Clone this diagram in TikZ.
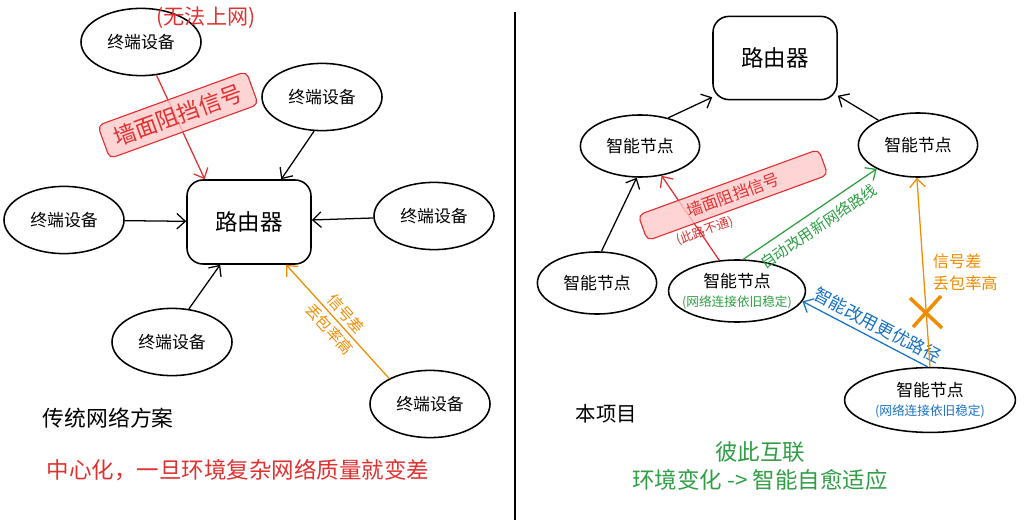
\documentclass[tikz,border=0pt]{standalone}
\usepackage{fontspec}
\setmainfont{Noto Sans CJK SC}
\usetikzlibrary{shapes.geometric,arrows.meta}
\definecolor{exred}{HTML}{E03131}
\definecolor{exorange}{HTML}{F08C00}
\definecolor{exgreen}{HTML}{2F9E44}
\definecolor{exblue}{HTML}{1971C2}
\definecolor{expink}{HTML}{FFC9C9}
\begin{document}
\begin{tikzpicture}[x=0.025cm, y=-0.025cm,
    device/.style={draw, ellipse, line width=1.1pt, inner sep=0pt,
      minimum width=3cm, minimum height=1.68cm, font=\fontsize{12}{14}\selectfont},
    smart/.style={draw, ellipse, line width=1.1pt, inner sep=0pt, align=center,
      minimum width=2.98cm, minimum height=1.55cm, font=\fontsize{12}{15}\selectfont},
    router/.style={draw, rounded corners=0.4cm, line width=1.1pt,
      minimum width=3.1cm, minimum height=2.1cm, font=\fontsize{16}{18}\selectfont},
    link/.style={line width=0.9pt, -{Straight Barb[length=6pt,width=11pt]}},
    wall/.style={draw=exred, fill=expink, fill opacity=0.8, text opacity=1,
      rounded corners=4pt, line width=0.8pt, rotate=20, text=exred},
    small/.style={font=\fontsize{8}{9}\selectfont}
  ]
  \useasboundingbox (0,0) rectangle (1024,525);

  % Left side: traditional network
  \node[router] (routerL) at (249,222) {路由器};
  \node[device] (devA) at (141,42) {终端设备};
  \node[device] (devB) at (322,97) {终端设备};
  \node[device] (devC) at (64,220) {终端设备};
  \node[device] (devD) at (434,216) {终端设备};
  \node[device] (devE) at (172,342) {终端设备};
  \node[device] (devF) at (430,404) {终端设备};
  \node[exred, font=\fontsize{15}{17}\selectfont] (offline) at (206,18) {(无法上网)};

  % Drawing links to the router
  \draw[link, exred] (devA.295) -- (routerL.136);
  \draw[link] (devB.257) -- (routerL.53);
  \draw[link] (devC) -- (routerL);
  \draw[link] (devD) -- (routerL);
  \draw[link] (devE.63) -- (routerL.236);
  \draw[link, exorange] (devF.148) -- node[sloped, align=center, text=exorange,
    font=\fontsize{11}{16}\selectfont] (weakL) {信号差\\丢包率高} (routerL.311);
  \node[wall, minimum width=3.95cm, minimum height=0.88cm,
    font=\fontsize{16}{18}\selectfont] (wallL) at (178,115) {墙面阻挡信号};

  \node[anchor=west, font=\fontsize{15.5}{18}\selectfont] (titleL) at (38,418) {传统网络方案};
  \node[exred, font=\fontsize{16}{18}\selectfont] (noteL) at (238,470) {中心化，一旦环境复杂网络质量就变差};

  % Divider
  \draw[line width=1pt] (515,12) -- (515,520);

  % Right side: this project
  \node[router, minimum height=2.08cm] (routerR) at (775,58) {路由器};
  \node[smart] (nodeA) at (640,146) {智能节点};
  \node[smart, minimum height=1.6cm] (nodeB) at (918,145) {智能节点};
  \node[smart] (nodeC) at (597,283) {智能节点};
  \node[smart, minimum width=3.42cm] (nodeD) at (737,291)
    {智能节点\\[-2pt]\makebox[60pt]{\small\color{exgreen}(网络连接依旧稳定)}};
  \node[smart, minimum width=4.27cm, minimum height=1.62cm] (nodeE) at (930,400)
    {智能节点\\[-2pt]\makebox[60pt]{\small\color{exblue}(网络连接依旧稳定)}};

  % Drawing mesh links
  \draw[link] (nodeA.45) -- (routerR.212);
  \draw[link] (nodeB.148) -- (routerR.329);
  \draw[link] (nodeC.82) -- (nodeA.264);
  \draw[link, exred] (nodeD.120) -- (nodeA.306);
  \draw[link, exgreen] (nodeD.79) -- node[sloped, below=2pt, pos=0.5, text=exgreen,
    font=\fontsize{10.8}{12}\selectfont] (greenLbl) {自动改用新网络路线} (nodeB.210);
  \draw[link, exblue] (nodeE.94) -- node[sloped, above, pos=0.45, text=exblue,
    font=\fontsize{12.5}{14}\selectfont] (blueLbl) {智能改用更优路径} (nodeD.351);
  \draw[link, exorange] (nodeE.north) -- node[pos=0.5, right, xshift=3pt, align=left,
    text=exorange, font=\fontsize{11.5}{15.5}\selectfont] (weakR) {信号差\\丢包率高} (nodeB.268);

  % Marking broken link by cross
  \draw[exorange, line width=2.5pt] (910,298) -- (942,328) (941,296) -- (913,327);

  \node[wall, minimum width=4.8cm, minimum height=0.68cm,
    font=\fontsize{11.5}{13}\selectfont] (wallR) at (733,195) {墙面阻挡信号};
  \node[exred, rotate=20, font=\fontsize{9}{10}\selectfont] (blocked) at (705,231) {(此路不通)};

  \node[anchor=west, font=\fontsize{14.5}{17}\selectfont] (titleR) at (571,414) {本项目};
  \node[exgreen, align=center, font=\fontsize{16}{20.5}\selectfont] (noteR) at (760,466)
    {彼此互联\\环境变化 -> 智能自愈适应};
\end{tikzpicture}
\end{document}
